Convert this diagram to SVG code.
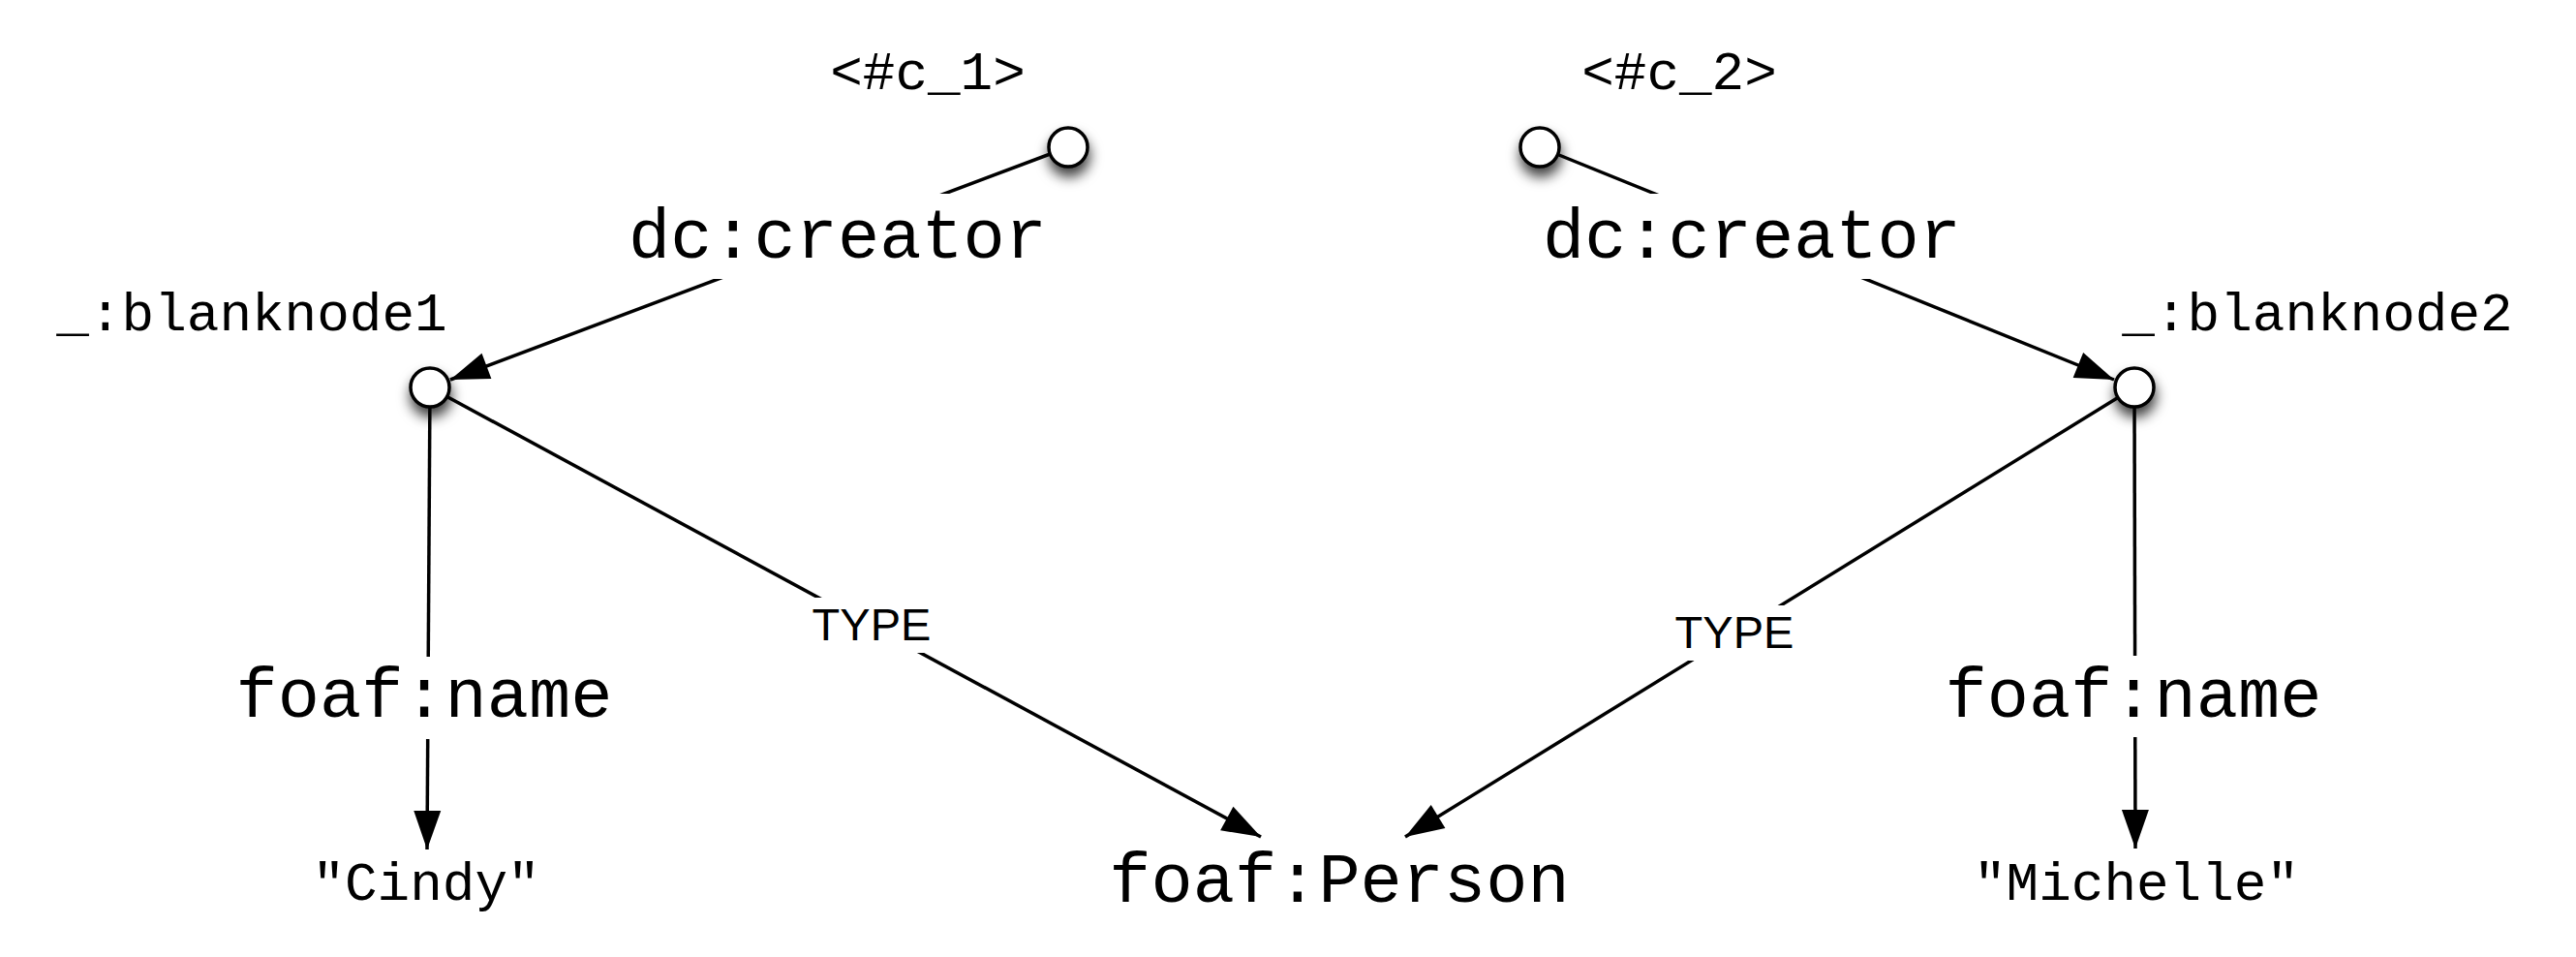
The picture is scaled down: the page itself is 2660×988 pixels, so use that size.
<svg xmlns="http://www.w3.org/2000/svg" width="2660" height="988" viewBox="0 0 2660 988">
<style>
.mono{font-family:"Liberation Mono","Courier New",monospace;fill:#000}
.sm{font-size:56px}
.lg{font-size:72px}
.sans{font-family:"Liberation Sans",Arial,sans-serif;font-size:47px;fill:#000}
.edge{stroke:#000;stroke-width:3.5;fill:none}
.node{fill:#fff;stroke:#000;stroke-width:3.5}
.bg{fill:#fff}
</style>
<defs>
<filter id="shadow" x="-100%" y="-100%" width="300%" height="300%">
<feDropShadow dx="1" dy="9" stdDeviation="6.5" flood-color="#000" flood-opacity="0.75"/>
</filter>
<marker id="arrow" markerUnits="userSpaceOnUse" markerWidth="44" markerHeight="32" viewBox="0 -16 42 32" refX="40" refY="0" orient="auto">
<path d="M0,-14 L40,0 L0,14 z" fill="#000"/>
</marker>
</defs>
<rect width="2660" height="988" fill="#fff"/>
<g id="connectors">
<line class="edge" x1="1103" y1="152" x2="465" y2="392" marker-end="url(#arrow)"/>
<line class="edge" x1="1590" y1="152" x2="2183" y2="392" marker-end="url(#arrow)"/>
<line class="edge" x1="444" y1="400" x2="441" y2="877" marker-end="url(#arrow)"/>
<line class="edge" x1="2204" y1="400" x2="2205" y2="876" marker-end="url(#arrow)"/>
<line class="edge" x1="444" y1="400" x2="1302" y2="864" marker-end="url(#arrow)"/>
<line class="edge" x1="2204" y1="400" x2="1451" y2="864" marker-end="url(#arrow)"/>
</g>
<g id="node-c1">
<circle class="node" cx="1103" cy="152" r="20" filter="url(#shadow)"/>
<text class="mono sm" x="958" y="92" text-anchor="middle">&lt;#c_1&gt;</text>
</g>
<g id="node-c2">
<circle class="node" cx="1590" cy="152" r="20" filter="url(#shadow)"/>
<text class="mono sm" x="1734" y="92" text-anchor="middle">&lt;#c_2&gt;</text>
</g>
<g id="node-blanknode1">
<circle class="node" cx="444" cy="400" r="20" filter="url(#shadow)"/>
<text class="mono sm" x="260" y="341" text-anchor="middle">_:blanknode1</text>
</g>
<g id="node-blanknode2">
<circle class="node" cx="2204" cy="400" r="20" filter="url(#shadow)"/>
<text class="mono sm" x="2393" y="341" text-anchor="middle">_:blanknode2</text>
</g>
<g id="node-cindy">
<text class="mono sm" x="440" y="929" text-anchor="middle">"Cindy"</text>
</g>
<g id="node-michelle">
<text class="mono sm" x="2206" y="929" text-anchor="middle">"Michelle"</text>
</g>
<g id="node-person">
<text class="mono lg" x="1383" y="931" text-anchor="middle">foaf:Person</text>
</g>
<g id="edge-labels">
<g id="label-creator1">
<rect class="bg" x="627" y="200" width="476" height="88"/>
<text class="mono lg" x="865" y="266" text-anchor="middle">dc:creator</text>
</g>
<g id="label-creator2">
<rect class="bg" x="1572" y="200" width="474" height="88"/>
<text class="mono lg" x="1809" y="266" text-anchor="middle">dc:creator</text>
</g>
<g id="label-name1">
<rect class="bg" x="222" y="678" width="432" height="85"/>
<text class="mono lg" x="438" y="740" text-anchor="middle">foaf:name</text>
</g>
<g id="label-name2">
<rect class="bg" x="1987" y="677" width="432" height="84"/>
<text class="mono lg" x="2203" y="740" text-anchor="middle">foaf:name</text>
</g>
<g id="label-type1">
<rect class="bg" x="835" y="617" width="130" height="57"/>
<text class="sans" x="900" y="661" text-anchor="middle">TYPE</text>
</g>
<g id="label-type2">
<rect class="bg" x="1726" y="625" width="130" height="57"/>
<text class="sans" x="1791" y="669" text-anchor="middle">TYPE</text>
</g>
</g>
</svg>
